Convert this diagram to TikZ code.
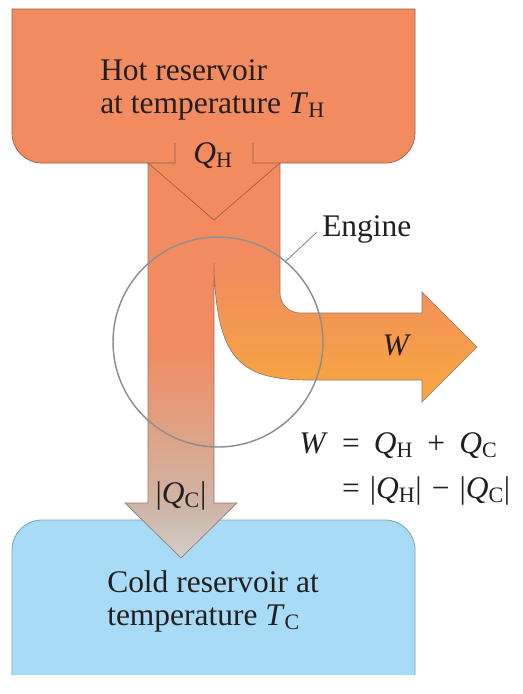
\documentclass[tikz,border=0pt]{standalone}
\usepackage{fontspec}
\setmainfont{Liberation Serif}
\usetikzlibrary{calc}
\definecolor{hot}{RGB}{242,139,96}
\definecolor{hotline}{RGB}{150,95,70}
\definecolor{worange}{RGB}{246,163,68}
\definecolor{cgray}{RGB}{211,207,205}
\definecolor{ctan}{RGB}{206,182,168}
\definecolor{coldfill}{RGB}{168,220,246}
\definecolor{coldline}{RGB}{120,160,180}
\definecolor{arrline}{RGB}{150,120,105}
\definecolor{ringgray}{RGB}{142,142,142}
\definecolor{ink}{RGB}{35,31,32}
\pgfdeclareverticalshading{coldshade}{100bp}{color(0bp)=(cgray); color(25bp)=(cgray); color(31bp)=(ctan); color(52bp)=(hot); color(100bp)=(hot)}
\pgfdeclareverticalshading{wshade}{100bp}{color(0bp)=(worange); color(30bp)=(worange); color(54bp)=(hot); color(100bp)=(hot)}
\newcommand\symQH{\textit{Q}\textsubscript{H}}
\newcommand\symQC{\textit{Q}\textsubscript{C}}
\newcommand\symTH{\textit{T}\textsubscript{H}}
\newcommand\symTC{\textit{T}\textsubscript{C}}
\newcommand\gap{\hspace{0.45em}}
\newcommand\sgap{\hspace{0.32em}}
\begin{document}
\begin{tikzpicture}[x=0.75pt,y=-0.75pt,
  txt/.style={inner sep=0pt, text=ink, font=\fontsize{23.6}{25}\selectfont},
  outl/.style={draw=arrline, line width=0.5pt},
  resline/.style={draw=hotline, line width=0.5pt}]
\useasboundingbox (0,0) rectangle (523,694);
% hot reservoir
\fill[hot] (12,9) -- (415,9) -- (415,133) .. controls (415,149.6) and (401.6,163) .. (385,163)
  -- (42,163) .. controls (25.4,163) and (12,149.6) .. (12,133) -- cycle;
% cold reservoir
\fill[coldfill] (12,675) -- (12,550) .. controls (12,533.4) and (25.4,520) .. (42,520)
  -- (385,520) .. controls (401.6,520) and (415,533.4) .. (415,550) -- (415,675) -- cycle;
\draw[coldline, line width=0.6pt] (12,675) -- (12,550) .. controls (12,533.4) and (25.4,520) .. (42,520)
  -- (385,520) .. controls (401.6,520) and (415,533.4) .. (415,550) -- (415,675);
% cold flow arrow
\shade[shading=coldshade] (148,163) -- (214,163) -- (214,503) -- (237,503) -- (181,558)
  -- (125,503) -- (148,503) -- cycle;
% work flow arrow
\shade[shading=wshade] (214,163) -- (280,163) -- (280,293) .. controls (280,304) and (289,313) .. (300,313)
  -- (422,313) -- (422,292) -- (477,347) -- (422,402) -- (422,380) -- (310,380)
  .. controls (240,380) and (216,360) .. (214,263) -- cycle;
% outlines of flows
\draw[outl] (280,163) -- (280,293) .. controls (280,304) and (289,313) .. (300,313)
  -- (422,313) -- (422,292) -- (477,347) -- (422,402) -- (422,380) -- (310,380)
  .. controls (240,380) and (216,360) .. (214,263) -- (214,503) -- (237,503) -- (181,558)
  -- (125,503) -- (148,503) -- (148,163);
% hot reservoir outline with notch
\draw[resline] (253,143) -- (253,163) -- (385,163) .. controls (401.6,163) and (415,149.6) .. (415,133)
  -- (415,9) -- (12,9) -- (12,133) .. controls (12,149.6) and (25.4,163) .. (42,163)
  -- (175,163) -- (175,143);
% chevron
\draw[resline] (148,163) -- (214,220) -- (280,163);
% engine ring
\node[circle, draw=ringgray, line width=1.1pt, minimum size=157.5pt, inner sep=0pt] (eng) at (218,342) {};
% labels
\node[txt, anchor=base west] (hot1) at (100,80) {Hot reservoir};
\node[txt, anchor=base west] (hot2) at (100,113) {at temperature \symTH};
\node[txt, anchor=base] (qh) at (213,163) {\symQH};
\node[txt, anchor=base west] (englbl) at (322,236) {Engine};
\draw[ringgray, line width=0.7pt] (eng.50) -- ($(englbl.west)+(-5,3)$);
\node[txt, anchor=base] (wlbl) at (397,355) {\textit{W}};
\node[txt, anchor=base west] (eq1) at (299,453) {\textit{W}\gap=\gap\symQH\gap+\gap\symQC};
\node[txt, anchor=base west] (eq2) at (299,498) {\phantom{\textit{W}}\gap=\sgap|\symQH|\sgap−\sgap|\symQC|};
\node[txt, anchor=base] (qc) at (181,503) {|\symQC|};
\node[txt, anchor=base west] (cold1) at (107,592) {Cold reservoir at};
\node[txt, anchor=base west] (cold2) at (107,625) {temperature \symTC};
\end{tikzpicture}
\end{document}
